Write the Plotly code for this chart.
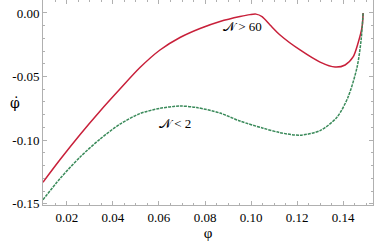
import plotly.graph_objects as go

red_x = [0.00957, 0.01696, 0.02565, 0.03435, 0.04304, 0.05174, 0.06043, 0.06913, 0.07783, 0.08652, 0.09522, 0.09957, 0.10217, 0.10478, 0.10826, 0.11261, 0.12130, 0.13000, 0.13652, 0.14087, 0.14435, 0.14652, 0.14826, 0.14870]
red_y = [-0.1331, -0.1154, -0.0957, -0.0772, -0.0598, -0.0429, -0.0291, -0.0193, -0.0122, -0.0067, -0.0028, -0.0013, -0.0009, -0.0028, -0.0094, -0.0173, -0.0291, -0.0386, -0.0425, -0.0409, -0.0346, -0.0236, -0.0110, 0.0000]

grn_x = [0.00957, 0.01696, 0.02565, 0.03435, 0.04304, 0.05174, 0.06043, 0.06913, 0.07652, 0.08652, 0.09522, 0.10522, 0.11261, 0.12130, 0.13000, 0.13739, 0.14217, 0.14609, 0.14783, 0.14870]
grn_y = [-0.1469, -0.1303, -0.1134, -0.0992, -0.0874, -0.0791, -0.0750, -0.0732, -0.0744, -0.0787, -0.0850, -0.0906, -0.0941, -0.0961, -0.0925, -0.0819, -0.0661, -0.0425, -0.0213, 0.0000]

x_ticks = [0.02, 0.04, 0.06, 0.08, 0.10, 0.12, 0.14]
y_ticks = [0.00, -0.05, -0.10, -0.15]

SERIF = "Liberation Serif, Times New Roman, serif"

fig = go.Figure()
fig.add_trace(go.Scatter(x=red_x, y=red_y, mode="lines",
                         line=dict(color="#C8203A", width=1.5, shape="spline", smoothing=0.8)))
fig.add_trace(go.Scatter(x=grn_x, y=grn_y, mode="lines",
                         line=dict(color="#3A8A5A", width=1.5, dash="3px,1px", shape="spline", smoothing=0.8)))

fig.add_annotation(x=0.0961, y=-0.0106, text="𝒩 > 60", showarrow=False,
                   font=dict(family=SERIF, size=13, color="black"))
fig.add_annotation(x=0.0670, y=-0.0866, text="𝒩 < 2", showarrow=False,
                   font=dict(family=SERIF, size=13, color="black"))
fig.add_annotation(xref="paper", yref="paper", x=-0.106, y=0.5, text="φ̇", showarrow=False,
                   font=dict(family="DejaVu Serif", size=14, color="black"))

axis_common = dict(showgrid=False, zeroline=False, showline=True, linecolor="#b0b0b0", linewidth=1,
                   mirror="allticks", ticks="inside", ticklen=4, tickcolor="#b0b0b0",
                   tickfont=dict(family=SERIF, size=13, color="black"))

fig.update_xaxes(range=[0.0096, 0.153], tickvals=x_ticks, ticktext=[f"{v:.2f}" for v in x_ticks],
                 minor=dict(ticks="inside", ticklen=2, tickcolor="#b0b0b0", dtick=0.005),
                 title=dict(text="φ", font=dict(family=SERIF, size=15, color="black"), standoff=4),
                 **axis_common)
fig.update_yaxes(range=[-0.151, 0.0102], tickvals=y_ticks, ticktext=[f"{v:.2f}" for v in y_ticks],
                 minor=dict(ticks="inside", ticklen=2, tickcolor="#b0b0b0", dtick=0.01),
                 **axis_common)

fig.update_layout(width=374, height=241, margin=dict(l=43, r=1, t=0, b=36),
                  plot_bgcolor="white", paper_bgcolor="white", showlegend=False)
fig.write_html("out.html", config={"displayModeBar": False},
               post_script="document.body.style.margin='0';")
